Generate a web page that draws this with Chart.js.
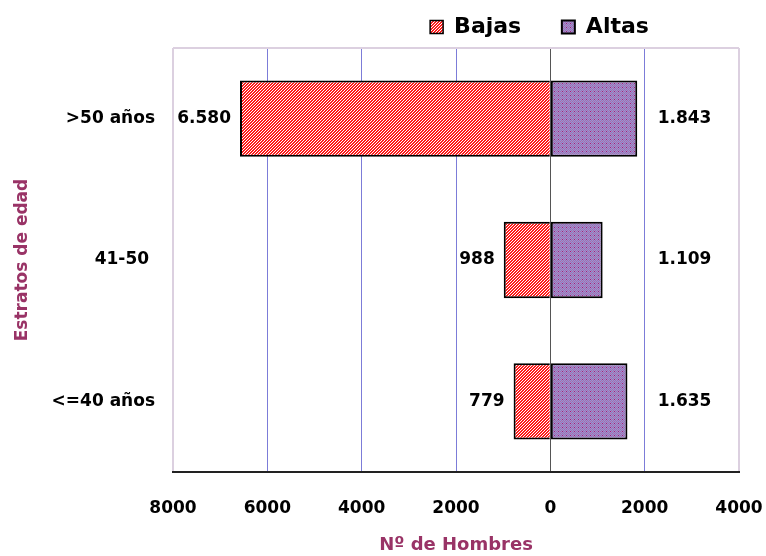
<!DOCTYPE html>
<html>
<head>
<meta charset="utf-8">
<script src="https://cdn.jsdelivr.net/npm/chart.js@4/dist/chart.umd.min.js"></script>
<style>
  html, body { margin: 0; padding: 0; background: #fff; }
  #wrap { width: 766px; height: 556px; }
</style>
</head>
<body>
<div id="wrap"><canvas id="grafico"></canvas></div>
<script>
// Datos del gráfico
const categorias = ['>50 años', '41-50 ', '<=40 años'];
const bajas = [-6580, -988, -779];
const altas = [1843, 1109, 1635];
const ejeMin = -8000, ejeMax = 4000, paso = 2000;

const granate = '#993366';

// Patrón rayado rojo para Bajas
function patronBajas() {
    const c = document.createElement('canvas');
    c.width = 3; c.height = 3;
    const g = c.getContext('2d');
    g.fillStyle = '#ff1a1a';
    g.fillRect(0, 0, 3, 3);
    g.fillStyle = '#ffffff';
    for (let i = 0; i < 3; i++) g.fillRect(i, 2 - i, 1, 1);
    return g.createPattern(c, 'repeat');
}

// Patrón punteado violeta para Altas
function patronAltas() {
    const c = document.createElement('canvas');
    c.width = 4; c.height = 4;
    const g = c.getContext('2d');
    g.fillStyle = '#9690dc';
    g.fillRect(0, 0, 4, 4);
    g.fillStyle = '#a672a6';
    g.fillRect(1, 0, 1, 1); g.fillRect(3, 0, 1, 1);
    g.fillRect(0, 1, 1, 1); g.fillRect(2, 1, 1, 1);
    g.fillRect(1, 2, 1, 1); g.fillRect(3, 2, 1, 1);
    g.fillRect(0, 3, 1, 1);
    g.fillStyle = '#b01e6a';
    g.fillRect(2, 3, 1, 1);
    return g.createPattern(c, 'repeat');
}

const formato = n => Math.abs(n).toString().replace(/\B(?=(\d{3})+(?!\d))/g, '.');

// Etiquetas de valores y borde superior
const etiquetasPlugin = {
    id: 'etiquetas',
    afterLayout(chart) {
        // desplaza la leyenda hacia la derecha como en el original
        chart.legend.left += 170;
        chart.legend.right += 170;
    },
    beforeDatasetsDraw(chart) {
        const { ctx, chartArea } = chart;
        ctx.save();
        ctx.strokeStyle = '#dcd0e0';
        ctx.lineWidth = 2;
        ctx.beginPath();
        ctx.moveTo(chartArea.left, chartArea.top);
        ctx.lineTo(chartArea.right, chartArea.top);
        ctx.stroke();
        ctx.restore();
    },
    afterDatasetsDraw(chart) {
        const { ctx } = chart;
        const xScale = chart.scales.x;
        ctx.save();
        ctx.font = 'bold 17px "DejaVu Sans"';
        ctx.fillStyle = '#000';
        ctx.textBaseline = 'middle';
        chart.getDatasetMeta(0).data.forEach((bar, i) => {
            ctx.textAlign = 'right';
            ctx.fillText(formato(bajas[i]), bar.x - 9, bar.y);
        });
        const xDer = xScale.getPixelForValue(paso) + 13;
        chart.getDatasetMeta(1).data.forEach((bar, i) => {
            ctx.textAlign = 'left';
            ctx.fillText(formato(altas[i]), xDer, bar.y);
        });
        ctx.restore();
    }
};

Chart.defaults.font.family = '"DejaVu Sans", sans-serif';
Chart.defaults.font.weight = 'bold';
Chart.defaults.color = '#000';

const ctx = document.getElementById('grafico').getContext('2d');
new Chart(ctx, {
    type: 'bar',
    data: {
        labels: categorias,
        datasets: [
            {
                label: 'Bajas    ',
                data: bajas,
                backgroundColor: patronBajas(),
                borderColor: '#000',
                borderWidth: { top: 2, bottom: 2, left: 2, right: 0 },
                borderSkipped: false
            },
            {
                label: 'Altas',
                data: altas,
                backgroundColor: patronAltas(),
                borderColor: '#000',
                borderWidth: 2,
                borderSkipped: false
            }
        ]
    },
    options: {
        indexAxis: 'y',
        responsive: true,
        maintainAspectRatio: false,
        animation: false,
        datasets: { bar: { barPercentage: 0.54, categoryPercentage: 1 } },
        layout: { padding: { top: 6, right: 27, left: 0, bottom: 0 } },
        plugins: {
            legend: {
                position: 'top',
                labels: {
                    boxWidth: 13,
                    boxHeight: 13,
                    padding: 10,
                    color: '#000',
                    font: { size: 22, weight: 'bold' }
                }
            },
            tooltip: { enabled: false }
        },
        scales: {
            x: {
                stacked: true,
                min: ejeMin,
                max: ejeMax,
                afterFit: s => { s.height = 84; },
                ticks: {
                    stepSize: paso,
                    padding: 0,
                    font: { size: 17, weight: 'bold' },
                    callback: v => Math.abs(v)
                },
                grid: {
                    drawTicks: true,
                    tickLength: 26,
                    tickColor: 'rgba(0,0,0,0)',
                    color: c => {
                        const v = c.tick ? c.tick.value : null;
                        if (v === 0) return '#555555';
                        if (v === ejeMin || v === ejeMax) return '#dcd0e0';
                        return '#7c7cd8';
                    },
                    lineWidth: c => {
                        const v = c.tick ? c.tick.value : null;
                        return (v === ejeMin || v === ejeMax) ? 2 : 1;
                    }
                },
                border: { display: true, color: '#222', width: 2 },
                title: {
                    display: true,
                    text: 'Nº de Hombres',
                    color: granate,
                    font: { size: 18, weight: 'bold' },
                    padding: { top: 0, bottom: 0 }
                }
            },
            y: {
                stacked: true,
                afterFit: s => { s.width = 173; },
                ticks: {
                    padding: 18,
                    font: { size: 17, weight: 'bold' }
                },
                grid: { display: false, drawTicks: false },
                border: { display: false },
                title: {
                    display: true,
                    text: 'Estratos de edad',
                    color: granate,
                    font: { size: 17, weight: 'bold' },
                    padding: { top: 12, bottom: 0 }
                }
            }
        }
    },
    plugins: [etiquetasPlugin]
});
</script>
</body>
</html>
